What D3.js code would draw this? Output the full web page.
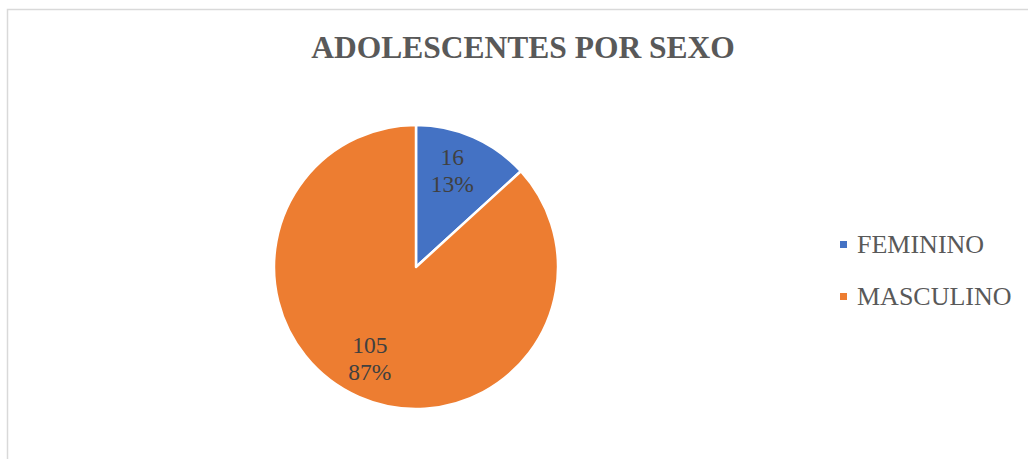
<!DOCTYPE html>
<html>
<head>
<meta charset="utf-8">
<script src="https://cdn.jsdelivr.net/npm/d3@7"></script>
<style>
  html, body { margin: 0; padding: 0; background: #fff; }
  svg { display: block; }
</style>
</head>
<body>
<svg id="chart" width="1028" height="459"></svg>
<script>
// Chart data
const categories = ["FEMININO", "MASCULINO"];
const values = [16, 105];
const colors = ["#4472C4", "#ED7D31"];
const chartTitle = "ADOLESCENTES POR SEXO";

const svg = d3.select("#chart");
const serif = "'Liberation Serif', 'Times New Roman', serif";

// Chart area frame (runs off the right and bottom edges)
svg.append("rect")
  .attr("x", 7.5).attr("y", 9.5)
  .attr("width", 1040).attr("height", 470)
  .attr("fill", "#fff")
  .attr("stroke", "#d9d9d9")
  .attr("stroke-width", 1.5);

// Title
svg.append("text")
  .attr("x", 523).attr("y", 58)
  .attr("text-anchor", "middle")
  .attr("font-family", serif)
  .attr("font-weight", "bold")
  .attr("font-size", 31.5)
  .attr("fill", "#595959")
  .text(chartTitle);

// Pie
const cx = 416, cy = 267, radius = 142;
const total = d3.sum(values);
const pie = d3.pie().sort(null).value(d => d)(values);
const arc = d3.arc().innerRadius(0).outerRadius(radius);
const labelArc = d3.arc().innerRadius(radius * 0.72).outerRadius(radius * 0.72);

const g = svg.append("g").attr("transform", `translate(${cx},${cy})`);

g.selectAll("path.slice")
  .data(pie)
  .join("path")
  .attr("class", "slice")
  .attr("d", arc)
  .attr("fill", (d, i) => colors[i])
  .attr("stroke", "#fff")
  .attr("stroke-width", 2.5)
  .attr("stroke-linejoin", "round");

// Data labels: value and percentage, two lines centred on the label arc
const fmtPct = d3.format(".0%");
pie.forEach((d, i) => {
  const [x, y] = labelArc.centroid(d);
  const t = g.append("text")
    .attr("text-anchor", "middle")
    .attr("font-family", serif)
    .attr("font-size", 23.5)
    .attr("fill", "#404040");
  t.append("tspan").attr("x", x - 5).attr("y", y - 8).text(values[i]);
  t.append("tspan").attr("x", x - 5).attr("y", y + 19).text(fmtPct(values[i] / total));
});

// Legend
const legend = svg.append("g").attr("transform", "translate(840,0)");
const legendY = [253, 305];
categories.forEach((c, i) => {
  legend.append("rect")
    .attr("x", 0).attr("y", legendY[i] - 12)
    .attr("width", 7).attr("height", 7)
    .attr("fill", colors[i]);
  legend.append("text")
    .attr("x", 17).attr("y", legendY[i])
    .attr("font-family", serif)
    .attr("font-size", 26)
    .attr("fill", "#595959")
    .text(c);
});
</script>
</body>
</html>
